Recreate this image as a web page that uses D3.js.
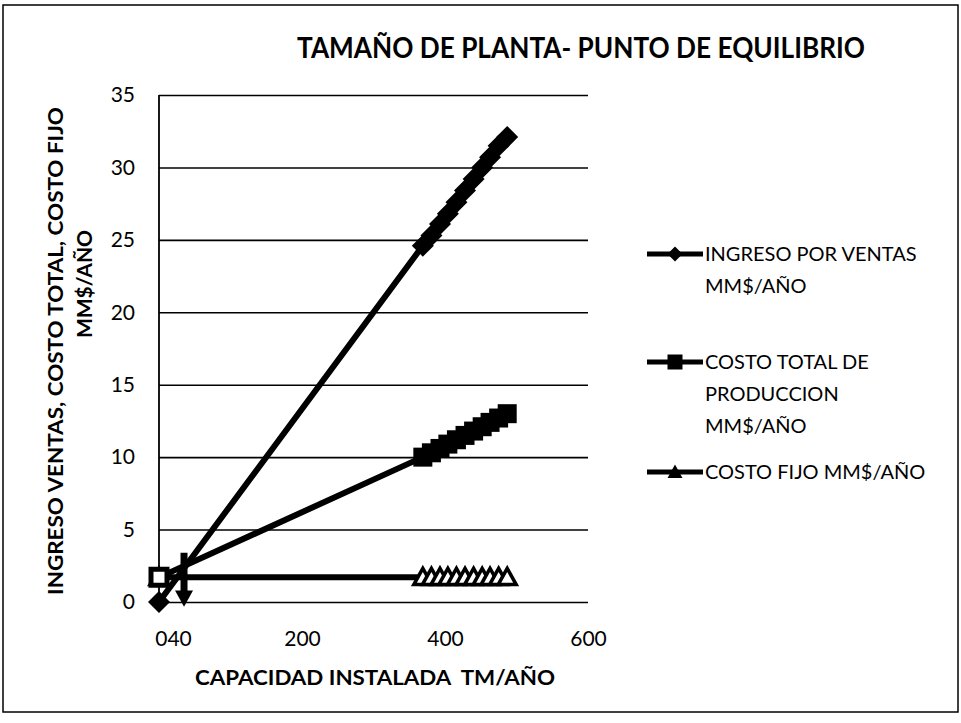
<!DOCTYPE html>
<html>
<head>
<meta charset="utf-8">
<script src="https://cdn.jsdelivr.net/npm/d3@7"></script>
<style>
  body { margin: 0; background: #fff; }
  text { font-family: Lato, "Open Sans", sans-serif; fill: #000; }
</style>
</head>
<body>
<div id="chart"></div>
<script>
// datos
const capacidad = [0, 369, 381, 393, 404, 416, 428, 440, 452, 463, 475, 487];
const ingresoVentas = [0, 24.6, 25.3, 26.1, 26.8, 27.6, 28.4, 29.2, 30.0, 30.7, 31.5, 32.1];
const costoTotal = [1.7, 10.0, 10.3, 10.6, 10.9, 11.2, 11.5, 11.8, 12.1, 12.4, 12.7, 13.0];
const costoFijo = [1.7, 1.7, 1.7, 1.7, 1.7, 1.7, 1.7, 1.7, 1.7, 1.7, 1.7, 1.7];
const equilibrioX = [35, 35];
const equilibrioY = [3.4, 0.3];
const xTicks = [0, 200, 400, 600];
const xTickLabels = ["040", "200", "400", "600"];
const yTicks = [0, 5, 10, 15, 20, 25, 30, 35];
const nombres = [["INGRESO POR VENTAS", "MM$/AÑO"], ["COSTO TOTAL DE", "PRODUCCION", "MM$/AÑO"], ["COSTO FIJO MM$/AÑO"]];
const marcadores = ["diamond", "square", "triangle"];

const W = 961, H = 723;
const pLeft = 159, pRight = 588, pTop = 95, pBottom = 602;

const svg = d3.select("#chart").append("svg")
    .attr("width", W)
    .attr("height", H);

// marco
svg.append("rect")
    .attr("x", 3).attr("y", 5)
    .attr("width", 955).attr("height", 707)
    .attr("fill", "none").attr("stroke", "#000").attr("stroke-width", 1.5);

const x = d3.scaleLinear().domain([0, 600]).range([pLeft, pRight]);
const y = d3.scaleLinear().domain([0, 35]).range([pBottom, pTop]);

// titulo
svg.append("text")
    .attr("x", 297).attr("y", 58)
    .attr("textLength", 568).attr("lengthAdjust", "spacingAndGlyphs")
    .style("font-size", "29px").style("font-weight", "bold")
    .text("TAMAÑO DE PLANTA- PUNTO DE EQUILIBRIO");

// eje Y con lineas de grilla
const yAxis = svg.append("g")
    .attr("transform", `translate(${pLeft},0)`)
    .call(d3.axisLeft(y).tickValues(yTicks).tickSize(-(pRight - pLeft)).tickPadding(24));
yAxis.select(".domain").remove();
yAxis.selectAll(".tick line").attr("stroke", "#000").attr("stroke-width", 1.6);
yAxis.selectAll(".tick text").style("font-size", "21px").attr("font-family", null);
svg.append("line")
    .attr("x1", pLeft).attr("x2", pLeft)
    .attr("y1", pTop).attr("y2", pBottom)
    .attr("stroke", "#000").attr("stroke-width", 1.8);

// eje X
const xAxis = svg.append("g")
    .attr("transform", `translate(0,${pBottom})`)
    .call(d3.axisBottom(x).tickValues(xTicks).tickSize(0).tickPadding(29)
        .tickFormat((d, i) => xTickLabels[i]));
xAxis.select(".domain").remove();
xAxis.selectAll(".tick text").style("font-size", "21px").attr("font-family", null)
    .attr("dx", (d, i) => i === 0 ? 14 : 0);

// titulos de ejes
svg.append("text")
    .attr("x", 195).attr("y", 685)
    .attr("textLength", 360).attr("lengthAdjust", "spacingAndGlyphs")
    .style("font-size", "21px").style("font-weight", "bold")
    .text("CAPACIDAD INSTALADA\u00a0 TM/AÑO");

svg.append("text")
    .attr("transform", "translate(63,351) rotate(-90)")
    .attr("text-anchor", "middle")
    .attr("textLength", 488).attr("lengthAdjust", "spacingAndGlyphs")
    .style("font-size", "21px").style("font-weight", "bold")
    .text("INGRESO VENTAS, COSTO TOTAL, COSTO FIJO");
svg.append("text")
    .attr("transform", "translate(92,284) rotate(-90)")
    .attr("text-anchor", "middle")
    .style("font-size", "21px").style("font-weight", "bold")
    .text("MM$/AÑO");

// formas de los marcadores
function marker(tipo, r) {
    if (tipo === "diamond") return `M0,${-r}L${r},0L0,${r}L${-r},0Z`;
    if (tipo === "square") return `M${-r},${-r}H${r}V${r}H${-r}Z`;
    if (tipo === "triangle") return `M0,${-r}L${r},${r * 0.8}H${-r}Z`;
    if (tipo === "down") return `M${-r},${-r * 0.8}H${r}L0,${r}Z`;
}

const series = [ingresoVentas, costoTotal, costoFijo];
const line = d3.line().x(d => x(d[0])).y(d => y(d[1]));

const plot = svg.append("g");

// lineas
series.forEach(s => {
    plot.append("path")
        .datum(capacidad.map((c, i) => [c, s[i]]))
        .attr("d", line)
        .attr("fill", "none")
        .attr("stroke", "#000")
        .attr("stroke-width", 6)
        .attr("stroke-linejoin", "round");
});

// marcadores: costo fijo (triangulos abiertos)
plot.selectAll(".tri")
    .data(capacidad.map((c, i) => [c, costoFijo[i]]))
    .join("path")
    .attr("transform", d => `translate(${x(d[0])},${y(d[1])})`)
    .attr("d", marker("triangle", 9))
    .attr("fill", "#fff").attr("stroke", "#000").attr("stroke-width", 3.5)
    .attr("stroke-linejoin", "miter");

// ingreso (rombos)
plot.selectAll(".dia")
    .data(capacidad.map((c, i) => [c, ingresoVentas[i]]))
    .join("path")
    .attr("transform", d => `translate(${x(d[0])},${y(d[1])})`)
    .attr("d", marker("diamond", 11))
    .attr("fill", "#000");

// costo total (cuadrados, el primero abierto)
plot.selectAll(".sq")
    .data(capacidad.map((c, i) => [c, costoTotal[i]]))
    .join("path")
    .attr("transform", d => `translate(${x(d[0])},${y(d[1])})`)
    .attr("d", (d, i) => marker("square", i === 0 ? 8 : 9.5))
    .attr("fill", (d, i) => i === 0 ? "#fff" : "#000")
    .attr("stroke", "#000").attr("stroke-width", (d, i) => i === 0 ? 5 : 0);

// punto de equilibrio
plot.append("path")
    .datum(equilibrioX.map((e, i) => [e, equilibrioY[i]]))
    .attr("d", line)
    .attr("stroke", "#000").attr("stroke-width", 7);
plot.append("path")
    .attr("transform", `translate(${x(equilibrioX[1])},${y(equilibrioY[1])})`)
    .attr("d", marker("down", 9))
    .attr("fill", "#000");

// leyenda
const legY = [254, 362, 472];
const leg = svg.append("g");
nombres.forEach((n, k) => {
    const g = leg.append("g").attr("transform", `translate(0,${legY[k]})`);
    g.append("line")
        .attr("x1", 647).attr("x2", 703)
        .attr("stroke", "#000").attr("stroke-width", 5);
    g.append("path")
        .attr("transform", "translate(675,0)")
        .attr("d", marker(marcadores[k], 7.5))
        .attr("fill", "#000");
    n.forEach((t, j) => {
        g.append("text")
            .attr("x", 705).attr("y", j * 32)
            .attr("dy", "0.35em")
            .style("font-size", "20px")
            .text(t);
    });
});
</script>
</body>
</html>
